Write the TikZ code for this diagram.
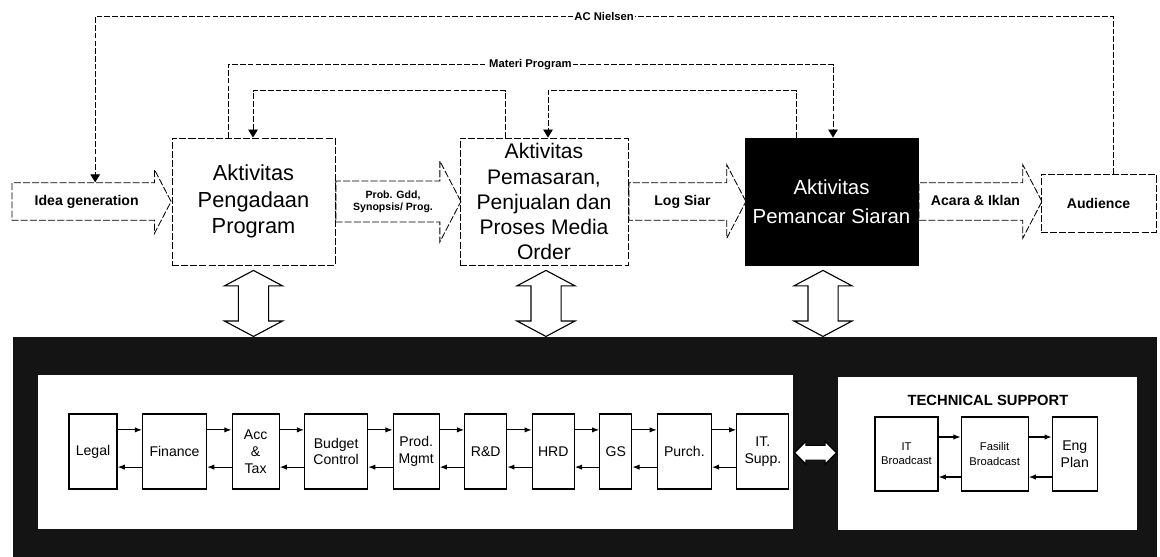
\documentclass[tikz,border=0pt]{standalone}
\usepackage{fontspec}
\setmainfont{Liberation Sans}
\usetikzlibrary{positioning,arrows.meta,shapes.arrows,calc}

\tikzset{
  procbox/.style={draw,dash pattern=on 5pt off 1.5pt,semithick,align=center,inner sep=0pt,minimum height=3.175cm,font=\fontsize{15.5}{19}\selectfont},
  flowarrow/.style={single arrow,draw,dash pattern=on 5pt off 1.5pt,semithick,single arrow tip angle=125,inner xsep=0pt,font=\bfseries\fontsize{10}{12}\selectfont},
  oneline/.style={text height=8pt,text depth=2pt,inner ysep=8pt,single arrow head extend=.45cm},
  updown/.style={double arrow,draw,thick,fill=white,rotate=90,minimum height=1.65cm,inner ysep=.3625cm,inner xsep=0pt,double arrow head extend=.35cm,double arrow tip angle=124},
  sidearrow/.style={double arrow,draw,thick,fill=white,minimum height=1.05cm,inner ysep=.17cm,inner xsep=0pt,double arrow head extend=.1cm},
  unitbox/.style={draw,thick,fill=white,align=center,inner sep=1pt,minimum height=1.875cm,font=\fontsize{10}{12}\selectfont},
  link/.style={-{Latex[length=1.8mm]},thick},
  feedback/.style={dash pattern=on 4pt off 1.5pt,semithick,-{Triangle[length=2mm,width=2.4mm]}},
  tag/.style={fill=white,inner sep=1pt,font=\bfseries\fontsize{8}{9}\selectfont}
}

\begin{document}
\begin{tikzpicture}[x=0.025cm,y=-0.025cm]
  \useasboundingbox (0,0) rectangle (1160,557);
  % top row
  \node[procbox,minimum width=4.075cm] (pengadaan) at (253.5,201.5) {Aktivitas\\Pengadaan\\Program};
  \node[procbox,minimum width=4.2cm,font=\fontsize{15}{17.8}\selectfont] (pemasaran) at (544,201.5) {Aktivitas\\Pemasaran,\\Penjualan dan\\Proses Media\\Order};
  \node[procbox,solid,fill=black,text=white,minimum width=4.325cm,font=\fontsize{14.5}{21}\selectfont] (pemancar) at (831.5,201.5) {Aktivitas\\Pemancar Siaran};
  \node[procbox,minimum width=2.875cm,minimum height=1.45cm,font=\bfseries\fontsize{10}{12}\selectfont] (audience) at (1098.5,203) {Audience};
  \node[flowarrow,oneline,single arrow head extend=.33cm,minimum height=3.975cm,left=0pt of pengadaan] (idea) {Idea generation};
  \node[flowarrow,align=center,inner ysep=6.5pt,single arrow head extend=.5cm,minimum height=3.125cm,font=\bfseries\fontsize{7.5}{8.5}\selectfont,right=0pt of pengadaan] (probgdd) {Prob. Gdd,\\Synopsis/ Prog.};
  \node[flowarrow,oneline,minimum height=2.925cm,right=0pt of pemasaran] (logsiar) {Log Siar};
  \node[flowarrow,oneline,minimum height=3.075cm,right=0pt of pemancar] (acara) {Acara \& Iklan};
  % feedback lines
  \draw[feedback] ($(audience.north)+(14.5,0)$) -- ++(0,-157) -| node[tag,pos=.25]{AC Nielsen} ($(idea.north)+(8.5,0)$);
  \draw[feedback] ($(pengadaan.north)+(-25.5,0)$) -- ++(0,-73) -| node[tag,pos=.25]{Materi Program} ($(pemancar.north)+(1.5,0)$);
  \draw[feedback] ($(pemasaran.north)+(-39,0)$) -- ++(0,-47) -| ($(pengadaan.north)+(-0.5,0)$);
  \draw[feedback] ($(pemancar.north)+(-35.5,0)$) -- ++(0,-47) -| ($(pemasaran.north)+(4,0)$);
  % support band
  \node[fill=black!92,inner sep=0pt,minimum width=28.6cm,minimum height=5.5cm] (band) at (585,447) {};
  \node[fill=white,inner sep=0pt,minimum width=18.875cm,minimum height=3.85cm] (leftpanel) at (415.5,452) {};
  \node[fill=white,inner sep=0pt,minimum width=7.475cm,minimum height=3.825cm] (rightpanel) at (987.5,453.5) {};
  \node[updown] (lnk1) at ($(pengadaan.south)+(0,38)$) {};
  \node[updown] (lnk2) at ($(pemasaran.south)+(2,38)$) {};
  \node[updown] (lnk3) at ($(pemancar.south)+(-8.5,38)$) {};
  \node[sidearrow] (lnk4) at ($(leftpanel.east)!.5!(rightpanel.west)$) {};
  % left panel units
  \node[unitbox,minimum width=1.2cm] (legal) at (93,451.5) {Legal};
  \node[unitbox,minimum width=1.6cm,right=.61cm of legal] (finance) {Finance};
  \node[unitbox,minimum width=1.175cm,right=.61cm of finance] (acctax) {Acc\\\&\\Tax};
  \node[unitbox,minimum width=1.575cm,right=.61cm of acctax] (budget) {Budget\\Control};
  \node[unitbox,minimum width=1.15cm,right=.61cm of budget] (prodmgmt) {Prod.\\Mgmt};
  \node[unitbox,minimum width=1.05cm,right=.61cm of prodmgmt] (rnd) {R\&D};
  \node[unitbox,minimum width=1.05cm,right=.61cm of rnd] (hrd) {HRD};
  \node[unitbox,minimum width=.8cm,right=.61cm of hrd] (gs) {GS};
  \node[unitbox,minimum width=1.35cm,right=.61cm of gs] (purch) {Purch.};
  \node[unitbox,minimum width=1.3cm,right=.61cm of purch] (itsupp) {IT.\\Supp.};
  \path[link] ([yshift=5.4mm]legal.east) edge ([yshift=5.4mm]finance.west) ([yshift=-3.9mm]finance.west) edge ([yshift=-3.9mm]legal.east);
  \path[link] ([yshift=5.4mm]finance.east) edge ([yshift=5.4mm]acctax.west) ([yshift=-3.9mm]acctax.west) edge ([yshift=-3.9mm]finance.east);
  \path[link] ([yshift=5.4mm]acctax.east) edge ([yshift=5.4mm]budget.west) ([yshift=-3.9mm]budget.west) edge ([yshift=-3.9mm]acctax.east);
  \path[link] ([yshift=5.4mm]budget.east) edge ([yshift=5.4mm]prodmgmt.west) ([yshift=-3.9mm]prodmgmt.west) edge ([yshift=-3.9mm]budget.east);
  \path[link] ([yshift=5.4mm]prodmgmt.east) edge ([yshift=5.4mm]rnd.west) ([yshift=-3.9mm]rnd.west) edge ([yshift=-3.9mm]prodmgmt.east);
  \path[link] ([yshift=5.4mm]rnd.east) edge ([yshift=5.4mm]hrd.west) ([yshift=-3.9mm]hrd.west) edge ([yshift=-3.9mm]rnd.east);
  \path[link] ([yshift=5.4mm]hrd.east) edge ([yshift=5.4mm]gs.west) ([yshift=-3.9mm]gs.west) edge ([yshift=-3.9mm]hrd.east);
  \path[link] ([yshift=5.4mm]gs.east) edge ([yshift=5.4mm]purch.west) ([yshift=-3.9mm]purch.west) edge ([yshift=-3.9mm]gs.east);
  \path[link] ([yshift=5.4mm]purch.east) edge ([yshift=5.4mm]itsupp.west) ([yshift=-3.9mm]itsupp.west) edge ([yshift=-3.9mm]purch.east);
  % technical support
  \node[font=\bfseries\fontsize{10.5}{12}\selectfont] (techsupp) at (988,400) {TECHNICAL SUPPORT};
  \node[unitbox,minimum width=1.575cm,minimum height=1.85cm,font=\fontsize{8}{10}\selectfont] (itbc) at (906.5,454) {IT\\Broadcast};
  \node[unitbox,minimum width=1.675cm,minimum height=1.85cm,font=\fontsize{8}{10}\selectfont,right=.55cm of itbc] (fasbc) {Fasilit\\Broadcast};
  \node[unitbox,minimum width=1.125cm,minimum height=1.85cm,right=.575cm of fasbc] (engplan) {Eng\\Plan};
  \path[link] ([yshift=4.25mm]itbc.east) edge ([yshift=4.25mm]fasbc.west) ([yshift=-5.75mm]fasbc.west) edge ([yshift=-5.75mm]itbc.east);
  \path[link] ([yshift=4.25mm]fasbc.east) edge ([yshift=4.25mm]engplan.west) ([yshift=-5.75mm]engplan.west) edge ([yshift=-5.75mm]fasbc.east);
\end{tikzpicture}
\end{document}
